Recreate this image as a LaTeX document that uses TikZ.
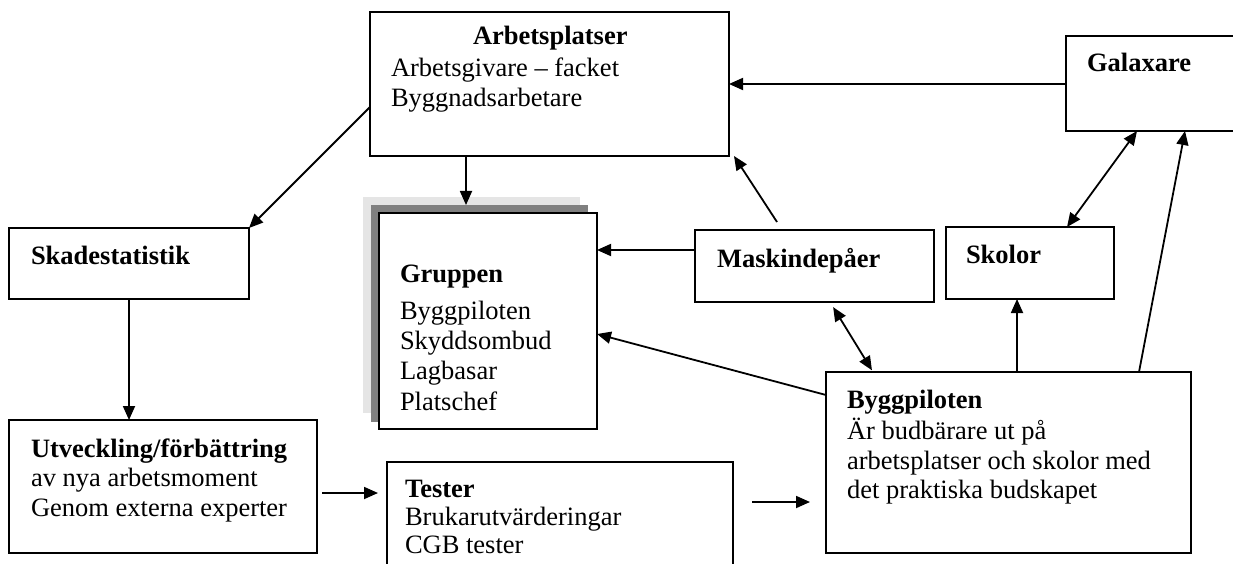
\documentclass[tikz,border=0pt]{standalone}
\usepackage{fontspec}
\setmainfont{Liberation Serif}
\usetikzlibrary{arrows.meta}
\tikzset{
  box/.style={draw, line width=2pt, inner sep=0pt, outer sep=0pt, anchor=north west, fill=white},
  lbl/.style={anchor=base west, inner sep=0pt, outer sep=0pt, font=\fontsize{26.5}{30}\selectfont},
  ttl/.style={anchor=base west, inner sep=0pt, outer sep=0pt, font=\bfseries\fontsize{26.5}{30}\selectfont},
  arr/.style={line width=1.8pt, -{Triangle[length=14pt,width=12pt]}},
  darr/.style={line width=1.8pt, {Triangle[length=14pt,width=12pt]}-{Triangle[length=14pt,width=12pt]}},
}
\begin{document}
\begin{tikzpicture}[x=1pt, y=-1pt]
\useasboundingbox (0,0) rectangle (1233,564);
% boxes
\node[box, minimum width=359pt, minimum height=144pt] (arb) at (370,12) {};
\node[box, minimum width=180pt, minimum height=95pt] (galax) at (1066,36) {};
\node[box, minimum width=240pt, minimum height=71pt] (skade) at (9,228) {};
\fill[gray!20] (363,197) rectangle (580,413);
\fill[gray] (371,205) rectangle (588,422);
\node[box, minimum width=218pt, minimum height=216pt] (grp) at (379,213) {};
\node[box, minimum width=239pt, minimum height=72pt] (mask) at (695,230) {};
\node[box, minimum width=168pt, minimum height=72pt] (skol) at (946,227) {};
\node[box, minimum width=365pt, minimum height=181pt] (bygg) at (826,372) {};
\node[box, minimum width=308pt, minimum height=133pt] (utv) at (9,420) {};
\node[box, minimum width=346pt, minimum height=130pt] (test) at (387,462) {};
% texts
\node[ttl] (t1) at (473,45) {Arbetsplatser};
\node[lbl] (t2) at (391,77) {Arbetsgivare – facket};
\node[lbl] (t3) at (391,107) {Byggnadsarbetare};
\node[ttl] (t4) at (1087,72) {Galaxare};
\node[ttl] (t5) at (31,264) {Skadestatistik};
\node[ttl] (t6) at (400,282) {Gruppen};
\node[lbl] (t7) at (400,319) {Byggpiloten};
\node[lbl] (t8) at (400,349) {Skyddsombud};
\node[lbl] (t9) at (400,379) {Lagbasar};
\node[lbl] (t10) at (400,410) {Platschef};
\node[ttl] (t11) at (717,267) {Maskindepåer};
\node[ttl] (t12) at (966,263) {Skolor};
\node[ttl] (t13) at (847,408) {Byggpiloten};
\node[lbl] (t14) at (847,439) {Är budbärare ut på};
\node[lbl] (t15) at (847,469) {arbetsplatser och skolor med};
\node[lbl] (t16) at (847,498) {det praktiska budskapet};
\node[ttl] (t17) at (31,457) {Utveckling/förbättring};
\node[lbl] (t18) at (31,486) {av nya arbetsmoment};
\node[lbl] (t19) at (31,516) {Genom externa experter};
\node[ttl] (t20) at (405,497) {Tester};
\node[lbl] (t21) at (405,525) {Brukarutvärderingar};
\node[lbl] (t22) at (405,553) {CGB tester};
% connectors
\coordinate (m1) at (777,222);
\coordinate (a1) at (734,156);
\draw[arr] (galax.west |- 0,84) -- (arb.east |- 0,84);
\draw[arr, shorten >=8pt] (arb.south -| 466,0) -- (grp.north -| 466,0);
\draw[arr] (arb.west |- 0,107) -- (skade.north east);
\draw[arr] (skade.south -| 129,0) -- (utv.north -| 129,0);
\draw[arr, shorten <=5pt, shorten >=9pt] (utv.east |- 0,493) -- (test.west |- 0,493);
\draw[arr, shorten <=19pt, shorten >=16pt] (test.east |- 0,502) -- (bygg.west |- 0,502);
\draw[arr] (mask.west |- 0,250) -- (grp.east |- 0,250);
\draw[arr] (m1) -- (a1);
\draw[arr] (bygg.west |- 0,395) -- (grp.east |- 0,334);
\draw[darr, shorten <=6pt, shorten >=2pt] (mask.south -| 830,0) -- (bygg.north -| 873,0);
\draw[arr] (bygg.north -| 1017,0) -- (skol.south -| 1017,0);
\draw[darr] (skol.north -| 1067,0) -- (galax.south -| 1137,0);
\draw[arr] (bygg.north -| 1139,0) -- (galax.south -| 1185,0);
\end{tikzpicture}
\end{document}
